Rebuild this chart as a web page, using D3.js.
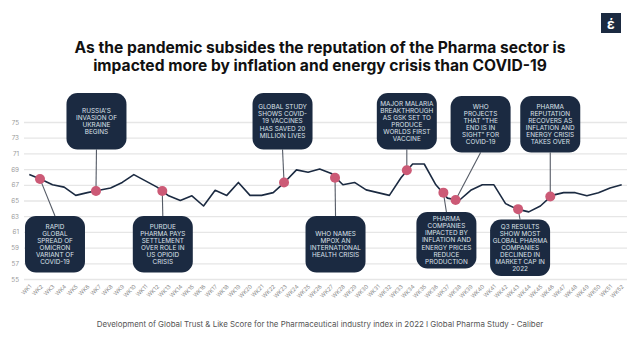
<!DOCTYPE html>
<html><head><meta charset="utf-8">
<script src="https://cdn.jsdelivr.net/npm/d3@7"></script>
<style>
html,body{margin:0;padding:0;background:#fff;}
svg{display:block;font-family:Inter,"Noto Sans",sans-serif;}
</style></head>
<body>
<svg id="chart" width="640" height="360"></svg>
<script>
// ---- data ----
const weekLabels = d3.range(1, 53).map(i => "WK" + i);
const scores = [68.3,67.7,67.0,66.7,65.65,66.0,66.3,66.6,67.3,68.3,67.5,66.7,65.6,65.0,65.6,64.3,66.3,65.65,67.3,65.65,
  65.65,66.0,67.35,68.9,68.6,69.0,68.45,67.0,67.3,66.35,66.0,65.65,67.9,69.65,69.65,67.0,65.3,65.0,66.3,67.0,
  67.0,64.6,63.9,63.55,64.3,65.65,66.0,66.0,65.6,66.0,66.6,67.0];
const yTicks = [55,57,59,61,63,65,67,69,71,73,75];
const eventWeeks  = [1.92, 6.74, 12.45, 22.93, 27.32, 33.5, 36.65, 37.7, 43.08, 45.85];
const eventScores = [67.75, 66.22, 66.2, 67.3, 67.9, 68.85, 66.0, 65.07, 63.9, 65.5];
const eventTexts = [
  ["RAPID","GLOBAL","SPREAD OF","OMICRON","VARIANT OF","COVID-19"],
  ["RUSSIA'S","INVASION OF","UKRAINE","BEGINS"],
  ["PURDUE","PHARMA PAYS","SETTLEMENT","OVER ROLE IN","US OPIOID","CRISIS"],
  ["GLOBAL STUDY","SHOWS COVID-","19 VACCINES","HAS SAVED 20","MILLION LIVES"],
  ["WHO NAMES","MPOX AN","INTERNATIONAL","HEALTH CRISIS"],
  ["MAJOR MALARIA","BREAKTHROUGH","AS GSK SET TO","PRODUCE","WORLDS FIRST","VACCINE"],
  ["PHARMA","COMPANIES","IMPACTED BY","INFLATION AND","ENERGY PRICES","REDUCE","PRODUCTION"],
  ["WHO","PROJECTS","THAT \"THE","END IS IN","SIGHT\" FOR","COVID-19"],
  ["Q3 RESULTS","SHOW MOST","GLOBAL PHARMA","COMPANIES","DECLINED IN","MARKET CAP IN","2022"],
  ["PHARMA","REPUTATION","RECOVERS AS","INFLATION AND","ENERGY CRISIS","TAKES OVER"]
];
const titleLines = ["As the pandemic subsides the reputation of the Pharma sector is",
                    "impacted more by inflation and energy crisis than COVID-19"];
const footerText = "Development of Global Trust & Like Score for the Pharmaceutical industry index in 2022 I Global Pharma Study - Caliber";

// ---- layout (box placement: pixel offset of box centre from marker, box top) ----
const boxLayout = [
  {dx: 15, top: 216}, {dx: 0.5, top: 93}, {dx: 0.5, top: 216}, {dx: -1.5, top: 93}, {dx: 0.5, top: 216},
  {dx: 0, top: 93}, {dx: 3, top: 212}, {dx: 25, top: 96}, {dx: 2, top: 219.5}, {dx: 0, top: 96}
];

const svg = d3.select("#chart");
const navy = "#1b2a41", pink = "#cc5a76";

const x = d3.scaleLinear().domain([1, 52]).range([29.3, 621.7]);
const y = d3.scaleLinear().domain([55, 75]).range([279, 122]);

// title
svg.append("g").selectAll("text").data(titleLines).join("text")
  .attr("x", 320).attr("y", (d,i) => 52.5 + i*18)
  .attr("text-anchor", "middle").attr("font-size", 15.6).attr("font-weight", 700)
  .attr("fill", "#111").text(d => d);

// logo
svg.append("rect").attr("x", 601).attr("y", 13).attr("width", 20).attr("height", 20).attr("fill", navy);
svg.append("text").attr("x", 611).attr("y", 28.5).attr("text-anchor", "middle")
  .attr("font-size", 14).attr("font-weight", 700).attr("fill", "#fff").text("έ");

// y grid + labels
const yAxis = svg.append("g").attr("transform", "translate(24,0)")
  .call(d3.axisLeft(y).tickValues(yTicks).tickSize(-603).tickPadding(5));
yAxis.select(".domain").remove();
yAxis.selectAll(".tick line").attr("stroke", "#e6e6e6").attr("stroke-width", 1.3);
yAxis.selectAll(".tick text").attr("fill", "#9a9a9a").attr("font-size", 6.3).attr("font-family", "Inter, sans-serif");

// x axis
const xAxis = svg.append("g").attr("transform", "translate(0,281)")
  .call(d3.axisBottom(x).tickValues(d3.range(1, 53)).tickFormat(i => weekLabels[i-1]).tickSize(0).tickPadding(0));
xAxis.select(".domain").remove();
xAxis.selectAll(".tick text")
  .attr("fill", "#8a8a8a").attr("font-size", 5.6).attr("font-family", "Inter, sans-serif")
  .attr("text-anchor", "end").attr("dy", 0).attr("y", 0)
  .attr("transform", "translate(2,6) rotate(-45)");

// line
const line = d3.line().x((d,i) => x(i+1)).y(d => y(d));
svg.append("path").datum(scores).attr("d", line)
  .attr("fill", "none").attr("stroke", navy).attr("stroke-width", 1.6).attr("stroke-linejoin", "round");

// annotations
const boxW = 60, boxH = 56.5, lh = 7.05;
eventWeeks.forEach((wk, i) => {
  const mx = x(wk), my = y(eventScores[i]);
  const L = boxLayout[i];
  const cx = mx + L.dx;
  const above = L.top < my;
  const attachY = above ? L.top + boxH : L.top;
  svg.append("line").attr("x1", mx).attr("y1", my).attr("x2", cx).attr("y2", attachY)
    .attr("stroke", "#555b66").attr("stroke-width", 1.1);
});
eventWeeks.forEach((wk, i) => {
  const mx = x(wk);
  const L = boxLayout[i];
  const cx = mx + L.dx;
  const g = svg.append("g");
  g.append("rect").attr("x", cx - boxW/2).attr("y", L.top).attr("width", boxW).attr("height", boxH)
    .attr("rx", 11).attr("fill", navy);
  const lines = eventTexts[i];
  const y0 = L.top + boxH/2 - (lines.length - 1) * lh / 2;
  g.selectAll("text").data(lines).join("text")
    .attr("x", cx).attr("y", (d,j) => y0 + j*lh).attr("dy", "0.35em")
    .attr("text-anchor", "middle").attr("font-size", 6.4).attr("fill", "#dde2ea")
    .text(d => d);
});
svg.append("g").selectAll("circle").data(eventWeeks).join("circle")
  .attr("cx", d => x(d)).attr("cy", (d,i) => y(eventScores[i])).attr("r", 5)
  .attr("fill", pink);

// footer
svg.append("text").attr("x", 320).attr("y", 327).attr("text-anchor", "middle")
  .attr("font-size", 7.9).attr("fill", "#555").text(footerText);
</script>
</body></html>
